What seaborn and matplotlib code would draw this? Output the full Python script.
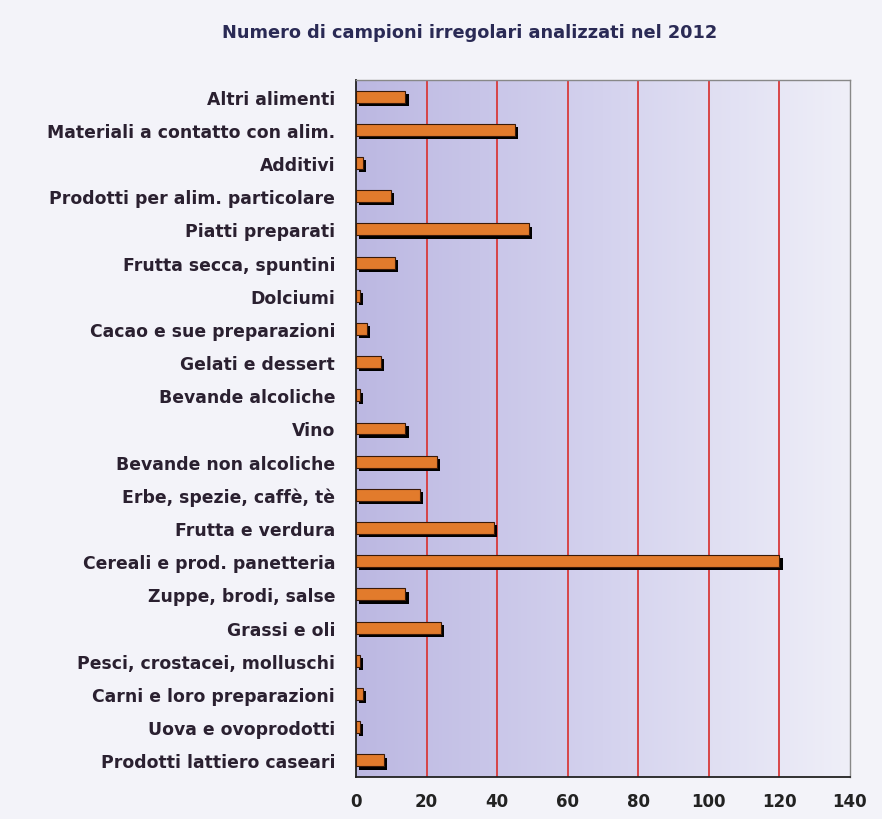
import numpy as np
import pandas as pd
import matplotlib
matplotlib.use("Agg")
import matplotlib.pyplot as plt
import matplotlib.patheffects as pe
from matplotlib.colors import LinearSegmentedColormap
import seaborn as sns

categories = [
    "Altri alimenti",
    "Materiali a contatto con alim.",
    "Additivi",
    "Prodotti per alim. particolare",
    "Piatti preparati",
    "Frutta secca, spuntini",
    "Dolciumi",
    "Cacao e sue preparazioni",
    "Gelati e dessert",
    "Bevande alcoliche",
    "Vino",
    "Bevande non alcoliche",
    "Erbe, spezie, caffè, tè",
    "Frutta e verdura",
    "Cereali e prod. panetteria",
    "Zuppe, brodi, salse",
    "Grassi e oli",
    "Pesci, crostacei, molluschi",
    "Carni e loro preparazioni",
    "Uova e ovoprodotti",
    "Prodotti lattiero caseari",
]
values = [14, 45, 2, 10, 49, 11, 1, 3, 7, 1, 14, 23, 18, 39, 120, 14, 24, 1, 2, 1, 8]
x_ticks = [0, 20, 40, 60, 80, 100, 120, 140]
title = "Numero di campioni irregolari analizzati nel 2012"

df = pd.DataFrame({"categoria": categories, "campioni": values})

sns.set_theme(style="white")
plt.rcParams["font.family"] = ["DejaVu Sans"]

fig = plt.figure(figsize=(8.82, 8.20), dpi=100)
fig.patch.set_facecolor("#f3f3f9")
ax = fig.add_axes([356 / 882, 1 - 778 / 820, (850 - 356) / 882, (778 - 81) / 820])

# gradient background
cmap = LinearSegmentedColormap.from_list("bg", ["#bcb8e2", "#d4d2ee", "#efeff8"])
grad = np.linspace(0, 1, 256).reshape(1, -1)
ax.imshow(grad, cmap=cmap, aspect="auto", extent=[0, 140, len(categories) - 0.5, -0.5],
          zorder=0, interpolation="bicubic")

for xv in x_ticks[1:-1]:
    ax.axvline(xv, color="#d83a3a", lw=1.3, zorder=1)

sns.barplot(data=df, x="campioni", y="categoria", orient="h", ax=ax,
            color="#e27b2c", edgecolor="#3a1a08", linewidth=0.8, width=0.36,
            saturation=1, zorder=3)
for p in ax.patches:
    p.set_path_effects([pe.SimplePatchShadow(offset=(2.3, -2.3), shadow_rgbFace="black", alpha=1.0),
                        pe.Normal()])

ax.set_xlim(0, 140)
ax.set_ylim(len(categories) - 0.5, -0.5)
ax.set_xticks(x_ticks)
ax.set_xticklabels([str(v) for v in x_ticks], fontsize=12, fontweight="bold", color="#222222")
ax.set_yticks(range(len(categories)))
ax.set_yticklabels(categories, fontsize=12.4, fontweight="bold", color="#2a2030")
ax.set_yticks(np.arange(-0.5, len(categories), 1), minor=True)
ax.tick_params(axis="y", which="major", length=0, pad=15)
ax.tick_params(axis="y", which="minor", length=6, width=1.2, color="#222222", direction="out")
ax.tick_params(axis="x", which="major", length=5, width=1.2, color="#222222", direction="out", pad=6)
ax.set_xlabel("")
ax.set_ylabel("")

for side in ["left", "bottom"]:
    ax.spines[side].set_color("#222222")
    ax.spines[side].set_linewidth(1.3)
for side in ["top", "right"]:
    ax.spines[side].set_color("#888888")
    ax.spines[side].set_linewidth(1.0)

fig.text(470 / 882, 1 - 33 / 820, title, ha="center", va="center",
         fontsize=12.8, fontweight="bold", color="#2a2a55")

fig.savefig("out.png", dpi=100, facecolor=fig.get_facecolor())
